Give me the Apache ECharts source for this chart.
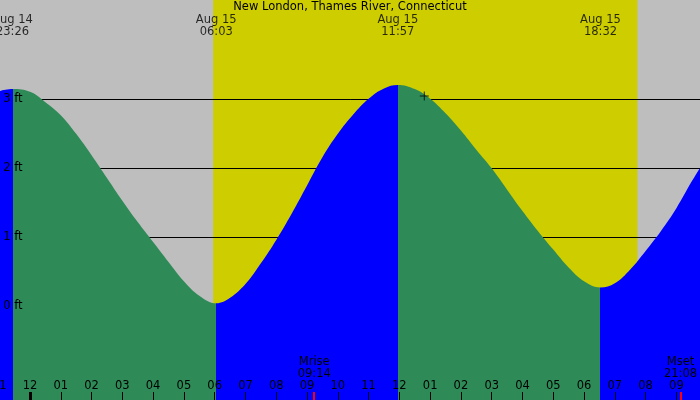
<!DOCTYPE html>
<html>
<head>
<meta charset="utf-8">
<script src="https://cdn.jsdelivr.net/npm/echarts@6/dist/echarts.min.js"></script>
<style>
  html, body { margin: 0; padding: 0; background: #bebebe; }
  #chart { width: 700px; height: 400px; }
</style>
</head>
<body>
<div id="chart"></div>
<script>
// tide height, hours counted from midnight Aug 15 (negative = Aug 14)
const tideHours = [
    -1.0, -0.567, 0.0, 0.5, 1.0, 1.5, 2.0, 2.5, 3.0, 3.5, 4.0, 4.5, 5.0, 5.5,
    6.05, 6.5, 7.0, 7.5, 8.0, 8.5, 9.0, 9.5, 10.0, 10.5, 11.0, 11.5,
    11.95, 12.5, 13.0, 13.5, 14.0, 14.5, 15.0, 15.5, 16.0, 16.5, 17.0, 17.5, 18.0,
    18.53, 19.0, 19.5, 20.0, 20.5, 21.0, 21.5, 22.0
];
const tideFeet = [
    3.12, 3.15, 3.11, 2.96, 2.77, 2.50, 2.19, 1.86, 1.53, 1.22, 0.93, 0.64, 0.36, 0.15,
    0.04, 0.12, 0.32, 0.62, 0.96, 1.34, 1.75, 2.16, 2.50, 2.78, 3.01, 3.16,
    3.21, 3.15, 3.01, 2.80, 2.55, 2.27, 2.00, 1.69, 1.38, 1.09, 0.82, 0.56, 0.36,
    0.27, 0.33, 0.53, 0.80, 1.09, 1.42, 1.81, 2.17
];

// high / low tide labels along the top
const extremeDates = ['Aug 14', 'Aug 15', 'Aug 15', 'Aug 15'];
const extremeClock = ['23:26', '06:03', '11:57', '18:32'];
const extremeDay = [-1, 0, 0, 0];
const extremeKind = ['high', 'low', 'high', 'low'];

const sunClock = ['05:57', '19:44'];
const moonNames = ['Mrise', 'Mset'];
const moonClock = ['09:14', '21:08'];
const nowMark = [12.81, 3.05];
const feetTicks = [0, 1, 2, 3];

const FONT = 'DejaVu Sans';
const FS = 11.5;
const BLUE = '#0000ff';
const GREEN = '#2e8b57';

function clockToHours(s, day) {
    const p = s.split(':');
    return (day || 0) * 24 + Number(p[0]) + Number(p[1]) / 60;
}

function hourLabel(v) {
    const h = ((Math.round(v) % 24) + 24) % 24;
    const h12 = h % 12 === 0 ? 12 : h % 12;
    return String(h12).padStart(2, '0');
}

const extremeHours = extremeClock.map((c, i) => clockToHours(c, extremeDay[i]));
const sunHours = sunClock.map(c => clockToHours(c));
const moonHours = moonClock.map(c => clockToHours(c));

// falling water (after a high) is green, rising water is blue
const pieces = [{ lt: extremeHours[0], color: extremeKind[0] === 'high' ? BLUE : GREEN }];
extremeHours.forEach((t, i) => {
    const p = { gte: t, color: extremeKind[i] === 'high' ? GREEN : BLUE };
    if (i < extremeHours.length - 1) p.lt = extremeHours[i + 1];
    pieces.push(p);
});

const yMin = -1.365, yMax = 4.444;

const baseX = {
    type: 'value', min: -1, max: 22, position: 'bottom', z: 10,
    axisLine: { show: false, onZero: false }, splitLine: { show: false }
};

const chart = echarts.init(document.getElementById('chart'));
chart.setOption({
    animation: false,
    backgroundColor: '#bebebe',
    textStyle: { fontFamily: FONT },
    title: {
        text: 'New London, Thames River, Connecticut',
        left: 'center', top: 1, padding: 0,
        textStyle: { fontFamily: FONT, fontSize: FS, fontWeight: 'normal', color: '#000' }
    },
    grid: { left: -0.78, right: -7.16, top: 0, bottom: 0, outerBoundsMode: 'none', containLabel: false },
    visualMap: { type: 'piecewise', show: false, dimension: 0, seriesIndex: 0, pieces: pieces },
    xAxis: [
        Object.assign({}, baseX, {
            interval: 1,
            axisTick: { inside: true, length: 8, lineStyle: { color: '#000', width: 1 } },
            axisLabel: { inside: true, margin: 8, color: '#000', fontFamily: FONT, fontSize: FS, formatter: hourLabel }
        }),
        Object.assign({}, baseX, {
            axisTick: { inside: true, length: 8, customValues: [0], lineStyle: { color: '#000', width: 3 } },
            axisLabel: { show: false }
        }),
        Object.assign({}, baseX, {
            axisTick: { inside: true, length: 8, customValues: moonHours, lineStyle: { color: '#ff0000', width: 2 } },
            axisLabel: {
                inside: true, margin: 20, customValues: moonHours, color: '#000',
                fontFamily: FONT, fontSize: FS, lineHeight: 12,
                formatter: v => {
                    const i = moonHours.findIndex(m => Math.abs(m - v) < 1e-6);
                    return i < 0 ? '' : moonNames[i] + '\n' + moonClock[i];
                }
            }
        })
    ],
    yAxis: {
        type: 'value', min: yMin, max: yMax, position: 'left', z: 10,
        axisLine: { show: false, onZero: false }, axisTick: { show: false }, splitLine: { show: false },
        axisLabel: {
            inside: true, margin: 4, customValues: feetTicks, color: '#000',
            fontFamily: FONT, fontSize: FS, formatter: v => v + ' ft'
        }
    },
    series: [
        {
            name: 'tide',
            type: 'line',
            z: 2,
            smooth: 0.4,
            symbol: 'none',
            silent: true,
            data: tideHours.map((t, i) => [t, tideFeet[i]]),
            lineStyle: { width: 0 },
            areaStyle: { origin: 'start', opacity: 1 },
            markArea: {
                silent: true, z: 0,
                itemStyle: { color: '#cdcd00' },
                data: [[{ xAxis: sunHours[0] }, { xAxis: sunHours[1] }]]
            },
            markLine: {
                silent: true, z: 1, symbol: 'none',
                label: { show: false },
                lineStyle: { color: '#000', width: 1, type: 'solid' },
                data: feetTicks.map(v => ({ yAxis: v }))
            }
        },
        {
            name: 'extremes',
            type: 'scatter',
            z: 5,
            silent: true,
            symbolSize: 0,
            data: extremeHours.map(t => [t, yMax]),
            label: {
                show: true, position: 'bottom', distance: 14,
                color: '#000', fontFamily: FONT, fontSize: FS, lineHeight: 12, align: 'center',
                formatter: p => extremeDates[p.dataIndex] + '\n' + extremeClock[p.dataIndex]
            }
        },
        {
            name: 'now',
            type: 'scatter',
            z: 6,
            silent: true,
            symbol: 'path://M4,0h1v9h-1zM0,4h9v1h-9z',
            symbolSize: 9,
            itemStyle: { color: '#000' },
            data: [nowMark]
        }
    ]
});
</script>
</body>
</html>
